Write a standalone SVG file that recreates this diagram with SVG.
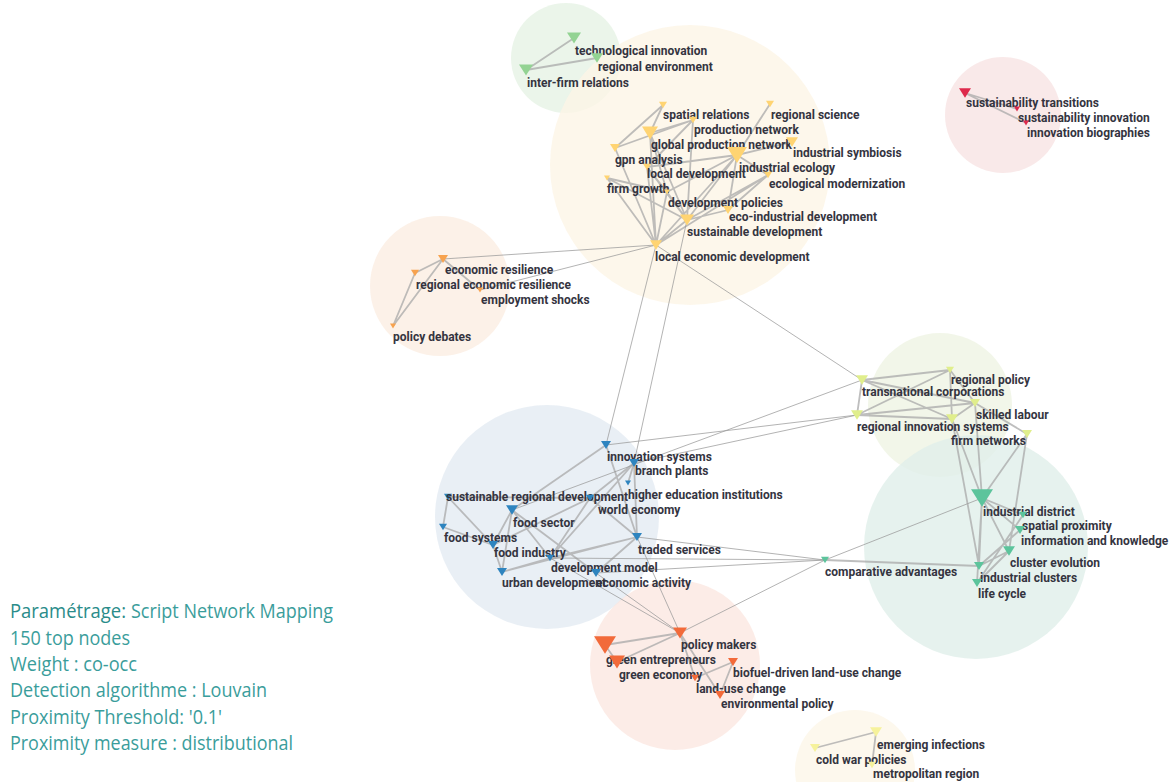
<svg xmlns="http://www.w3.org/2000/svg" xmlns:xlink="http://www.w3.org/1999/xlink" width="1170" height="782" viewBox="0 0 1170 782">
<defs>
<path id="t" d="M-1,-0.8 L1,-0.8 L0,0.8 Z"/>
<style>
.bg{fill-opacity:0.8}
.lbl{font-family:Roboto,"Liberation Sans",sans-serif;font-size:12px;font-weight:700;fill:#34343f}
.e{stroke:#9a9a9a;stroke-width:1;fill:none;stroke-opacity:0.75}
.ew{stroke:#a8a8a8;stroke-width:1.8;fill:none;stroke-opacity:0.75}
.cg{fill:#93d393}.co{fill:#ffd472}.cl{fill:#f7a24e}.cp{fill:#de2a4c}.cy{fill:#e0ee8c}.cb{fill:#2e84bf}.ct{fill:#5cc49c}.cr{fill:#f26a3a}.cz{fill:#f6f29c}
.leg{font-family:"Open Sans","Noto Sans",sans-serif;font-size:20px;fill:#3a9d9b}
</style>
</defs>
<rect width="1170" height="782" fill="#ffffff"/>
<g id="clusters">
<circle class="bg" cx="566" cy="58" r="55" fill="#e6f3e5"/>
<circle class="bg" cx="690" cy="165" r="140" fill="#fdf5e6"/>
<circle class="bg" cx="440" cy="286" r="70" fill="#fbeee2"/>
<circle class="bg" cx="1003" cy="115" r="58" fill="#f7e3e4"/>
<circle class="bg" cx="940" cy="405" r="72" fill="#eff4e3"/>
<circle class="bg" cx="547" cy="517" r="112" fill="#e4ebf3"/>
<circle class="bg" cx="976" cy="547" r="112" fill="#e0efea"/>
<circle class="bg" cx="675" cy="665" r="85" fill="#fbe7e1"/>
<circle class="bg" cx="855" cy="770" r="60" fill="#fdf6e9"/>
</g>
<g id="connectors">
<path class="ew" d="M526,70 L574,38 M526,70 L597,58"/>
<path class="ew" d="M663,105 L615,148 M663,105 L650,133 M693,120 L615,148 M693,120 L650,133 M693,120 L647,167 M693,120 L687,220 M650,133 L656,245 M650,133 L687,220 M650,133 L667,192 M615,148 L656,245 M770,104 L737,155 M737,155 L792,142 M737,155 L768,175 M737,155 L728,210 M737,155 L647,167 M737,155 L687,220 M737,155 L667,192 M737,155 L656,245 M768,175 L687,220 M768,175 L728,210 M768,175 L656,245 M607,178 L656,245 M607,178 L667,192 M607,178 L687,220 M647,167 L687,220 M647,167 L656,245 M667,192 L687,220 M667,192 L656,245 M728,210 L687,220 M687,220 L656,245 M647,167 L667,192"/>
<path class="ew" d="M393,326 L415,273 M393,326 L443,259 M415,273 L443,259 M443,259 L480,290"/>
<path class="ew" d="M965,93 L1017,109 M965,93 L1026,123"/>
<path class="ew" d="M862,380 L950,370 M862,380 L975,403 M862,380 L857,415 M862,380 L952,419 M857,415 L950,370 M857,415 L975,403 M857,415 L952,419 M950,370 L975,403 M950,370 L952,419 M975,403 L952,419 M975,403 L1027,434"/>
<path class="ew" d="M952,419 L982,498 M975,403 L982,498 M1027,434 L982,498 M1027,434 L1009,551 M952,419 L979,566 M982,498 L979,566 M982,498 L1009,551 M982,498 L1023,515 M982,498 L1020,530 M982,498 L977,583 M1009,551 L979,566 M1009,551 L977,583 M1020,530 L979,566 M1023,515 L977,583 M825,560 L979,566"/>
<path class="ew" d="M606,445 L637,537 M634,463 L637,537 M448,497 L443,527 M448,497 L493,545 M448,497 L590,498 M512,510 L606,445 M512,510 L550,558 M512,510 L493,545 M512,510 L596,573 M443,527 L493,545 M493,545 L502,572 M502,572 L550,558 M502,572 L637,537 M550,558 L637,537 M550,558 L590,498 M596,573 L637,537 M590,498 L637,537 M590,498 L634,463 M628,483 L634,463 M493,545 L590,498 M502,572 L512,510 M550,558 L634,463"/>
<path class="ew" d="M680,633 L605,645 M680,633 L617,662 M680,633 L695,678 M680,633 L720,695 M733,662 L695,678 M733,662 L720,695 M605,645 L617,662"/>
<path class="ew" d="M815,748 L876,732 M876,732 L872,765"/>
<path class="e" d="M656,245 L443,259 M656,245 L480,290 M656,245 L862,380 M656,245 L606,445 M687,220 L634,463 M857,415 L606,445 M857,415 L634,463 M862,380 L512,510 M982,498 L825,560 M825,560 L550,558 M825,560 L637,537 M825,560 L596,573 M680,633 L596,573 M680,633 L550,558 M680,633 L825,560 M680,633 L637,537"/>
</g>
<g id="n-technological-innovation"><use href="#t" class="cg" transform="translate(574,38) scale(7)"/><text class="lbl" x="575" y="55">technological innovation</text></g>
<g id="n-regional-environment"><use href="#t" class="cg" transform="translate(597,58) scale(6)"/><text class="lbl" x="598" y="71">regional environment</text></g>
<g id="n-inter-firm-relations"><use href="#t" class="cg" transform="translate(526,70) scale(7)"/><text class="lbl" x="527" y="87">inter-firm relations</text></g>
<g id="n-spatial-relations"><use href="#t" class="co" transform="translate(663,105) scale(4)"/><text class="lbl" x="663" y="119">spatial relations</text></g>
<g id="n-regional-science"><use href="#t" class="co" transform="translate(770,104) scale(4)"/><text class="lbl" x="771" y="119">regional science</text></g>
<g id="n-production-network"><use href="#t" class="co" transform="translate(693,120) scale(4)"/><text class="lbl" x="694" y="134">production network</text></g>
<g id="n-global-production-network"><use href="#t" class="co" transform="translate(650,133) scale(8)"/><text class="lbl" x="651" y="149">global production network</text></g>
<g id="n-industrial-symbiosis"><use href="#t" class="co" transform="translate(792,142) scale(6)"/><text class="lbl" x="793" y="157">industrial symbiosis</text></g>
<g id="n-gpn-analysis"><use href="#t" class="co" transform="translate(615,148) scale(5)"/><text class="lbl" x="615" y="164">gpn analysis</text></g>
<g id="n-industrial-ecology"><use href="#t" class="co" transform="translate(737,155) scale(10)"/><text class="lbl" x="739" y="172">industrial ecology</text></g>
<g id="n-local-development"><use href="#t" class="co" transform="translate(647,167) scale(4)"/><text class="lbl" x="647" y="178">local development</text></g>
<g id="n-ecological-modernization"><use href="#t" class="co" transform="translate(768,175) scale(4)"/><text class="lbl" x="769" y="188">ecological modernization</text></g>
<g id="n-firm-growth"><use href="#t" class="co" transform="translate(607,178) scale(3)"/><text class="lbl" x="607" y="193">firm growth</text></g>
<g id="n-development-policies"><use href="#t" class="co" transform="translate(667,192) scale(3)"/><text class="lbl" x="668" y="207">development policies</text></g>
<g id="n-eco-industrial-development"><use href="#t" class="co" transform="translate(728,210) scale(5)"/><text class="lbl" x="729" y="221">eco-industrial development</text></g>
<g id="n-sustainable-development"><use href="#t" class="co" transform="translate(687,220) scale(7)"/><text class="lbl" x="687" y="236">sustainable development</text></g>
<g id="n-local-economic-development"><use href="#t" class="co" transform="translate(656,245) scale(6)"/><text class="lbl" x="655" y="261">local economic development</text></g>
<g id="n-economic-resilience"><use href="#t" class="cl" transform="translate(443,259) scale(5)"/><text class="lbl" x="445" y="274">economic resilience</text></g>
<g id="n-regional-economic-resilience"><use href="#t" class="cl" transform="translate(415,273) scale(4)"/><text class="lbl" x="416" y="289">regional economic resilience</text></g>
<g id="n-employment-shocks"><use href="#t" class="cl" transform="translate(480,290) scale(3)"/><text class="lbl" x="481" y="304">employment shocks</text></g>
<g id="n-policy-debates"><use href="#t" class="cl" transform="translate(393,326) scale(3)"/><text class="lbl" x="393" y="341">policy debates</text></g>
<g id="n-sustainability-transitions"><use href="#t" class="cp" transform="translate(965,93) scale(6)"/><text class="lbl" x="966" y="107">sustainability transitions</text></g>
<g id="n-sustainability-innovation"><use href="#t" class="cp" transform="translate(1017,109) scale(3)"/><text class="lbl" x="1018" y="122">sustainability innovation</text></g>
<g id="n-innovation-biographies"><use href="#t" class="cp" transform="translate(1026,123) scale(3)"/><text class="lbl" x="1027" y="137">innovation biographies</text></g>
<g id="n-regional-policy"><use href="#t" class="cy" transform="translate(950,370) scale(4)"/><text class="lbl" x="951" y="384">regional policy</text></g>
<g id="n-transnational-corporations"><use href="#t" class="cy" transform="translate(862,380) scale(6)"/><text class="lbl" x="862" y="396">transnational corporations</text></g>
<g id="n-skilled-labour"><use href="#t" class="cy" transform="translate(975,403) scale(5)"/><text class="lbl" x="976" y="419">skilled labour</text></g>
<g id="n-regional-innovation-systems"><use href="#t" class="cy" transform="translate(857,415) scale(6)"/><text class="lbl" x="857" y="431">regional innovation systems</text></g>
<g id="n-firm-networks"><use href="#t" class="cy" transform="translate(952,419) scale(6)"/><text class="lbl" x="951" y="445">firm networks</text></g>
<g id="n-yg-extra"><use href="#t" class="cy" transform="translate(1027,434) scale(5)"/></g>
<g id="n-innovation-systems"><use href="#t" class="cb" transform="translate(606,445) scale(5)"/><text class="lbl" x="607" y="461">innovation systems</text></g>
<g id="n-branch-plants"><use href="#t" class="cb" transform="translate(634,463) scale(5)"/><text class="lbl" x="635" y="475">branch plants</text></g>
<g id="n-higher-education-institutions"><use href="#t" class="cb" transform="translate(628,483) scale(3)"/><text class="lbl" x="628" y="499">higher education institutions</text></g>
<g id="n-sustainable-regional-development"><use href="#t" class="cb" transform="translate(448,497) scale(4)"/><text class="lbl" x="446" y="501">sustainable regional development</text></g>
<g id="n-world-economy"><use href="#t" class="cb" transform="translate(590,498) scale(4)"/><text class="lbl" x="598" y="514">world economy</text></g>
<g id="n-food-sector"><use href="#t" class="cb" transform="translate(512,510) scale(6)"/><text class="lbl" x="513" y="527">food sector</text></g>
<g id="n-food-systems"><use href="#t" class="cb" transform="translate(443,527) scale(4)"/><text class="lbl" x="444" y="542">food systems</text></g>
<g id="n-food-industry"><use href="#t" class="cb" transform="translate(493,545) scale(5)"/><text class="lbl" x="494" y="557">food industry</text></g>
<g id="n-traded-services"><use href="#t" class="cb" transform="translate(637,537) scale(5)"/><text class="lbl" x="638" y="554">traded services</text></g>
<g id="n-development-model"><use href="#t" class="cb" transform="translate(550,558) scale(4)"/><text class="lbl" x="551" y="572">development model</text></g>
<g id="n-urban-development"><use href="#t" class="cb" transform="translate(502,572) scale(5)"/><text class="lbl" x="502" y="587">urban development</text></g>
<g id="n-economic-activity"><use href="#t" class="cb" transform="translate(596,573) scale(5)"/><text class="lbl" x="596" y="587">economic activity</text></g>
<g id="n-comparative-advantages"><use href="#t" class="ct" transform="translate(825,560) scale(4)"/><text class="lbl" x="825" y="576">comparative advantages</text></g>
<g id="n-industrial-district"><use href="#t" class="ct" transform="translate(982,498) scale(11)"/><text class="lbl" x="983" y="516">industrial district</text></g>
<g id="n-spatial-proximity"><use href="#t" class="ct" transform="translate(1023,515) scale(4)"/><text class="lbl" x="1022" y="530">spatial proximity</text></g>
<g id="n-information-and-knowledge"><use href="#t" class="ct" transform="translate(1020,530) scale(5)"/><text class="lbl" x="1021" y="545">information and knowledge</text></g>
<g id="n-cluster-evolution"><use href="#t" class="ct" transform="translate(1009,551) scale(6)"/><text class="lbl" x="1010" y="567">cluster evolution</text></g>
<g id="n-industrial-clusters"><use href="#t" class="ct" transform="translate(979,566) scale(5)"/><text class="lbl" x="980" y="582">industrial clusters</text></g>
<g id="n-life-cycle"><use href="#t" class="ct" transform="translate(977,583) scale(5)"/><text class="lbl" x="978" y="598">life cycle</text></g>
<g id="n-policy-makers"><use href="#t" class="cr" transform="translate(680,633) scale(7)"/><text class="lbl" x="681" y="649">policy makers</text></g>
<g id="n-green-entrepreneurs"><use href="#t" class="cr" transform="translate(605,645) scale(11)"/><text class="lbl" x="606" y="664">green entrepreneurs</text></g>
<g id="n-green-economy"><use href="#t" class="cr" transform="translate(617,662) scale(8)"/><text class="lbl" x="619" y="679">green economy</text></g>
<g id="n-biofuel-driven-land-use-change"><use href="#t" class="cr" transform="translate(733,662) scale(5)"/><text class="lbl" x="733" y="677">biofuel-driven land-use change</text></g>
<g id="n-land-use-change"><use href="#t" class="cr" transform="translate(695,678) scale(4)"/><text class="lbl" x="696" y="693">land-use change</text></g>
<g id="n-environmental-policy"><use href="#t" class="cr" transform="translate(720,695) scale(5)"/><text class="lbl" x="721" y="708">environmental policy</text></g>
<g id="n-emerging-infections"><use href="#t" class="cz" transform="translate(876,732) scale(6)"/><text class="lbl" x="877" y="749">emerging infections</text></g>
<g id="n-cold-war-policies"><use href="#t" class="cz" transform="translate(815,748) scale(5)"/><text class="lbl" x="816" y="764">cold war policies</text></g>
<g id="n-metropolitan-region"><use href="#t" class="cz" transform="translate(872,765) scale(4)"/><text class="lbl" x="873" y="778">metropolitan region</text></g>
<g id="legend">
<text class="leg" x="10" y="618" textLength="116" lengthAdjust="spacingAndGlyphs" fill="#2a8c8a" style="fill:#2a8c8a">Paramétrage:</text>
<text class="leg" x="131" y="618" textLength="202" lengthAdjust="spacingAndGlyphs">Script Network Mapping</text>
<text class="leg" x="10" y="645" textLength="120" lengthAdjust="spacingAndGlyphs">150 top nodes</text>
<text class="leg" x="10" y="671" textLength="127" lengthAdjust="spacingAndGlyphs">Weight : co-occ</text>
<text class="leg" x="10" y="697" textLength="257" lengthAdjust="spacingAndGlyphs">Detection algorithme : Louvain</text>
<text class="leg" x="10" y="724" textLength="212" lengthAdjust="spacingAndGlyphs">Proximity Threshold: '0.1'</text>
<text class="leg" x="10" y="750" textLength="283" lengthAdjust="spacingAndGlyphs">Proximity measure : distributional</text>
</g>
</svg>
